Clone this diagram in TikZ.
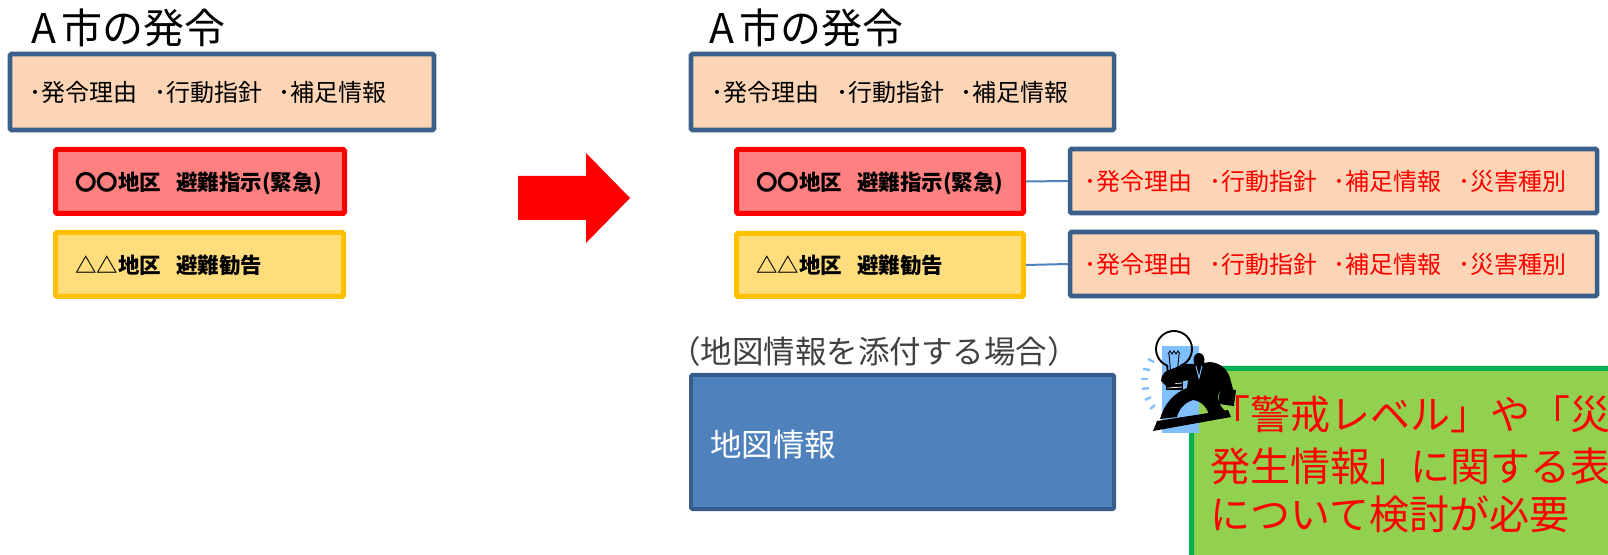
\documentclass[tikz,border=0pt]{standalone}
\usepackage{fontspec}
\newfontfamily\jp{Noto Sans CJK JP}
\usetikzlibrary{fit}

\definecolor{boxblue}{RGB}{58,95,139}
\definecolor{peach}{RGB}{251,213,181}
\definecolor{redfill}{RGB}{255,128,128}
\definecolor{yellowfill}{RGB}{255,221,125}
\definecolor{yellowline}{RGB}{255,192,0}
\definecolor{greenfill}{RGB}{146,208,80}
\definecolor{greenline}{RGB}{0,176,80}
\definecolor{mapfill}{RGB}{79,129,189}
\definecolor{mapline}{RGB}{56,93,138}
\definecolor{labelgray}{RGB}{64,64,64}
\definecolor{bulbblue}{RGB}{128,191,255}

% font size given in pixels (1px = 0.75pt)
\newcommand\pxsize[1]{\fontsize{\dimexpr #1pt*3/4\relax}{\dimexpr #1pt*9/10\relax}\selectfont}
\newcommand\grp{\hspace{0.7em}}

\begin{document}
\begin{tikzpicture}[x=0.75pt,y=-0.75pt,
  frame/.style={inner sep=0pt, rounded corners=1pt},
  infobox/.style={frame, draw=boxblue, fill=peach, line width=3.4pt},
  alertbox/.style={frame, draw=red, fill=redfill, line width=3.75pt},
  advicebox/.style={frame, draw=yellowline, fill=yellowfill, line width=3.75pt},
  mapbox/.style={frame, draw=mapline, fill=mapfill, line width=3pt},
  notebox/.style={frame, draw=greenline, fill=greenfill, line width=3.75pt},
  txt/.style={inner sep=0pt, anchor=west},
  title/.style={txt, font=\jp\pxsize{41}, text height=27.06pt, text depth=3.69pt},
  body/.style={txt, font=\jp\pxsize{24}, text height=15.84pt, text depth=2.16pt},
  area/.style={txt, font=\jp\bfseries\pxsize{21.5}, text height=14.19pt, text depth=1.93pt},
  mid/.style={txt, font=\jp\pxsize{31.5}, text height=20.79pt, text depth=2.84pt},
  big/.style={txt, font=\jp\pxsize{40}, text height=26.4pt, text depth=3.6pt, text=red},
  conn/.style={draw=mapfill, line width=1.5pt}
]
\useasboundingbox (0,0) rectangle (1608,555);
\clip (0,0) rectangle (1608,555);

% ---------- before ----------
\node[title] (t1) at (31,28) {A\hspace{0.12em}市の発令};
\node[infobox, fit={(10,54) (434,130)}] (b1) {};
\node[body] (b1t) at (29,92) {･発令理由\grp･行動指針\grp･補足情報};
\node[alertbox, fit={(55.5,149.5) (344.5,213.5)}] (r1) {};
\node[area] (r1t) at (75,182) {〇〇地区\hspace{0.7em}避難指示(緊急)};
\node[advicebox, fit={(55.5,232.5) (343.5,296.5)}] (y1) {};
\node[area] (y1t) at (75,265) {△△地区\hspace{0.7em}避難勧告};

% ---------- arrow ----------
\fill[red] (518,176) -- (586,176) -- (586,153) -- (630,198) -- (586,243)
  -- (586,220) -- (518,220) -- cycle;

% ---------- after ----------
\node[title] (t2) at (709,28) {A\hspace{0.12em}市の発令};
\node[infobox, fit={(691,54) (1114,130)}] (b2) {};
\node[body] (b2t) at (711,92) {･発令理由\grp･行動指針\grp･補足情報};
\node[alertbox, fit={(736.5,149.5) (1023.5,213.5)}] (r2) {};
\node[area] (r2t) at (756,182) {〇〇地区\hspace{0.7em}避難指示(緊急)};
\node[advicebox, fit={(736.5,233.5) (1023.5,296.5)}] (y2) {};
\node[area] (y2t) at (756,265) {△△地区\hspace{0.7em}避難勧告};

\node[infobox, fit={(1070,149) (1597,213)}] (i1) {};
\node[body, text=red] (i1t) at (1084,181) {･発令理由\grp･行動指針\grp･補足情報\grp･災害種別};
\node[infobox, fit={(1070,232) (1597,296)}] (i2) {};
\node[body, text=red] (i2t) at (1084,264) {･発令理由\grp･行動指針\grp･補足情報\grp･災害種別};

\draw[conn] (r2.east) -- (i1.west);
\draw[conn] (y2.east) -- (i2.west);

% map attachment
\node[mid, text=labelgray] (ml) at (669,352) {（地図情報を添付する場合）};
\node[mapbox, fit={(691,375) (1114,509)}] (map) {};
\node[mid, text=white] (mt) at (710,445) {地図情報};

% note
\node[notebox, fit={(1191.5,368.5) (1700,700)}] (note) {};
\node[big] (n1) at (1210,414) {「警戒レベル」や「災害};
\node[big] (n2) at (1210,466) {発生情報」に関する表現};
\node[big] (n3) at (1210,514) {について検討が必要};

% idea figure: man carrying a light bulb up a ramp
\fill[bulbblue] (1162,346) rectangle (1199,433);
\foreach \px/\py/\dx/\dy in {1148/359/6/3, 1143/369/7/1, 1141/379/7/0, 1142/389/7/-1, 1145/400/6/-3, 1150/409/5/-4}
  \draw[bulbblue, line width=1.8pt] (\px,\py) -- ++(\dx,\dy);
% bulb
\draw[black, line width=1.4pt] (1168,377) -- ([shift={(112:18)}]1174,349)
  arc[start angle=112, end angle=428, radius=18] -- (1181,377);
\draw[black, line width=0.7pt] (1168,354) -- (1170,351) -- (1172,354) -- (1174,351)
  -- (1176,354) -- (1178,351) -- (1180,354);
\draw[black, line width=0.7pt] (1169,354) -- (1171,376) (1179,354) -- (1177,376);
\fill[black] (1166,377) rectangle (1183,390);
\foreach \sy in {380,384,388}
  \draw[white, line width=0.6pt] (1167,\sy) -- (1182,\sy-1);
% figure
\fill[black] (1199,360) ellipse[x radius=5.5, y radius=7];
\fill[black] (1161,381) .. controls (1161,374) and (1166,370) .. (1172,369)
  -- (1184,364) -- (1196,364) -- (1210,362)
  .. controls (1222,363) and (1229,371) .. (1231,382) -- (1235,396) -- (1226,398)
  -- (1221,387) -- (1218,396) .. controls (1217,402) and (1221,407) .. (1226,412)
  -- (1209,415) .. controls (1207,407) and (1201,401) .. (1193,400)
  .. controls (1184,403) and (1179,409) .. (1177,417) -- (1160,419)
  .. controls (1164,404) and (1174,393) .. (1187,388) -- (1188,380)
  -- (1176,383) -- (1168,388) -- cycle;
\draw[bulbblue, line width=0.7pt] (1196,366) -- (1199,378) -- (1202,366);
\fill[black, rotate around={-8:(1227,397)}] (1219,389) rectangle (1235,405);
\fill[black] (1153,431) -- (1157,421) -- (1228,410) -- (1231,417) -- cycle;
\end{tikzpicture}
\end{document}
